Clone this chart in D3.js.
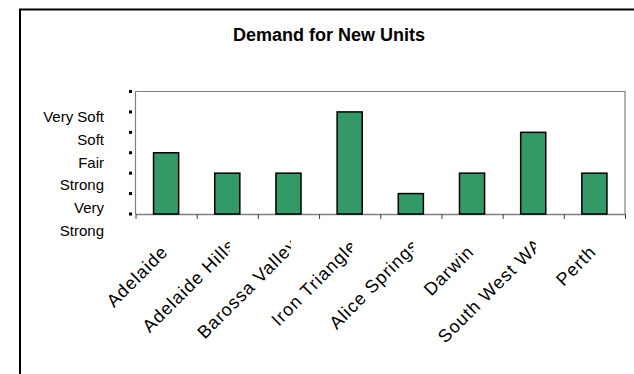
<!DOCTYPE html>
<meta charset="utf-8">
<style>
body { margin: 0; background: #fff; }
svg { display: block; font-family: "Liberation Sans", Arial, sans-serif; }
.title { font-size: 18px; font-weight: bold; }
.ylab { font-size: 15px; fill: #000; }
.xlab { font-size: 18px; letter-spacing: 1px; fill: #000; }
</style>
<body>
<script src="https://d3js.org/d3.v7.min.js"></script>
<script>

// data (0 = nothing .. 6 = top of the scale)
var categories = ["Adelaide", "Adelaide Hills", "Barossa Valley", "Iron Triangle",
                  "Alice Springs", "Darwin", "South West WA", "Perth"];
var demand = [3, 2, 2, 5, 1, 2, 4, 2];
var yTicks = [0, 1, 2, 3, 4, 5, 6];
var ratingLabels = ["Very Soft", "Soft", "Fair", "Strong", "Very Strong"];
var title = "Demand for New Units";

var width = 634, height = 374;
var plot = {left: 135.5, right: 625, top: 91.5, bottom: 214};

var svg = d3.select("body").append("svg")
    .attr("width", width)
    .attr("height", height);

// outer chart border (runs off the right and bottom)
svg.append("path")
    .attr("d", "M20,374V9.5H634")
    .attr("fill", "none")
    .attr("stroke", "#000")
    .attr("stroke-width", 2);

svg.append("text")
    .attr("class", "title")
    .attr("x", 329)
    .attr("y", 41)
    .attr("text-anchor", "middle")
    .text(title);

var x = d3.scaleBand()
    .domain(categories)
    .range([plot.left, plot.right])
    .paddingInner(0.59)
    .paddingOuter(0.295);

var xEdge = d3.scaleLinear()
    .domain([0, categories.length])
    .range([plot.left, plot.right]);

var y = d3.scaleLinear()
    .domain([0, 6])
    .range([plot.bottom, plot.top]);

// plot area frame
svg.append("path")
    .attr("d", "M" + plot.left + "," + plot.bottom + "V" + plot.top + "H" + plot.right + "V" + plot.bottom)
    .attr("fill", "none")
    .attr("stroke", "#808080")
    .attr("stroke-width", 1.2);

// bottom axis: ticks between categories
var xAxis = svg.append("g")
    .attr("transform", "translate(0," + plot.bottom + ")")
    .call(d3.axisBottom(xEdge)
        .tickValues(d3.range(0, categories.length + 1))
        .tickSize(5)
        .tickSizeOuter(0)
        .tickFormat(""));
xAxis.select(".domain").attr("stroke", "#808080").attr("stroke-width", 1.5);
xAxis.selectAll(".tick line").attr("stroke", "#404040");

// left tick marks: little black squares
svg.selectAll(".ytick")
    .data(yTicks)
  .enter().append("rect")
    .attr("class", "ytick")
    .attr("x", 129)
    .attr("y", function(d) { return y(d) - 1.5; })
    .attr("width", 3)
    .attr("height", 3)
    .attr("fill", "#000");

// bars
svg.selectAll(".bar")
    .data(demand)
  .enter().append("rect")
    .attr("class", "bar")
    .attr("x", function(d, i) { return x(categories[i]); })
    .attr("y", function(d) { return y(d); })
    .attr("width", x.bandwidth())
    .attr("height", function(d) { return y(0) - y(d); })
    .attr("fill", "#339966")
    .attr("stroke", "#000")
    .attr("stroke-width", 1.5);

// rating labels on the left, wrapped when too wide
var probe = svg.append("text").attr("class", "ylab");
var lines = [];
ratingLabels.forEach(function(l) {
  probe.text(l);
  if (probe.node().getComputedTextLength() > 64) lines = lines.concat(l.split(" "));
  else lines.push(l);
});
probe.remove();

var yLab = d3.scalePoint()
    .domain(d3.range(lines.length))
    .range([122, 236]);

svg.selectAll(".ylab")
    .data(lines)
  .enter().append("text")
    .attr("class", "ylab")
    .attr("x", 104)
    .attr("y", function(d, i) { return yLab(i); })
    .attr("text-anchor", "end")
    .text(function(d) { return d; });

// category labels at -45 degrees, cut off at the tick on the right
// (the longer the label, the more of its end runs past the cut)
var defs = svg.append("defs");
categories.forEach(function(c, i) {
  var cx = x(c) + x.bandwidth() / 2;
  defs.append("clipPath")
      .attr("id", "clip" + i)
    .append("rect")
      .attr("x", cx - 200)
      .attr("y", 215)
      .attr("width", 202.5)
      .attr("height", 160);

  var g = svg.append("g").attr("clip-path", "url(#clip" + i + ")");
  var t = g.append("text")
      .attr("class", "xlab")
      .attr("text-anchor", "end")
      .text(c);
  var len = t.node().getComputedTextLength();
  var over = len > 100 ? 0.075 * len : 0;
  t.attr("transform", "translate(" + (cx + 3) + ",253) rotate(-45) translate(" + over + ",0)");
});

</script>
